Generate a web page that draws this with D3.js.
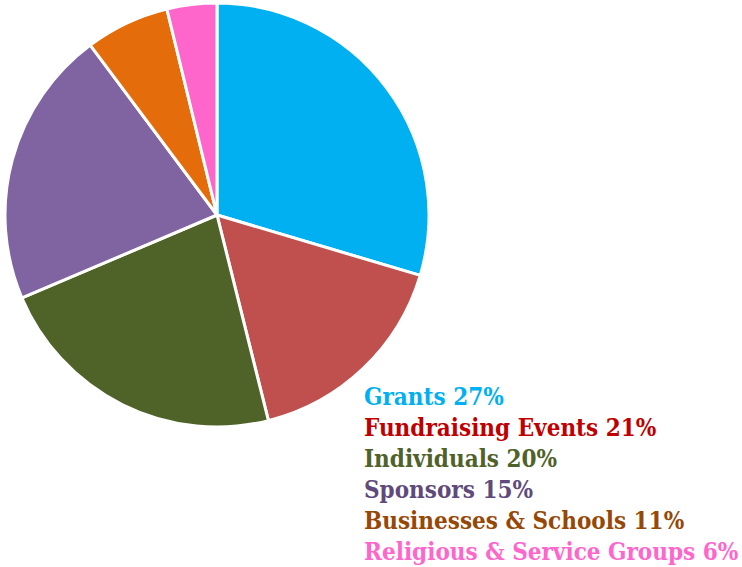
<!DOCTYPE html>
<html>
<head>
<meta charset="utf-8">
<script src="https://cdn.jsdelivr.net/npm/d3@7"></script>
<style>
body { margin: 0; background: #fff; }
</style>
</head>
<body>
<div id="chart"></div>
<script>
// slice sizes as drawn, and the legend texts
var categories = ["Grants", "Fundraising Events", "Individuals", "Sponsors", "Businesses & Schools", "Religious & Service Groups"]
var sliceValues = [29.6, 16.5, 22.5, 21.2, 6.4, 3.8]
var labelPercents = [27, 21, 20, 15, 11, 6]
var sliceColors = ["#00B0F0", "#C0504D", "#4F6228", "#8064A2", "#E46C0A", "#FF66CC"]
var labelColors = ["#00B0F0", "#C00000", "#4F6228", "#604A7B", "#974806", "#FF66CC"]

var width = 742
var height = 567

var svg = d3.select("#chart").append("svg")
  .attr("width", width)
  .attr("height", height)

var cx = 217, cy = 215, radius = 212

var pie = d3.pie().sort(null).value(function(d){ return d })
var arc = d3.arc().innerRadius(0).outerRadius(radius)

var g = svg.append("g").attr("transform", "translate(" + cx + "," + cy + ")")

g.selectAll("path")
  .data(pie(sliceValues))
  .enter()
  .append("path")
  .attr("d", arc)
  .attr("fill", function(d, i){ return sliceColors[i] })
  .attr("stroke", "#fff")
  .attr("stroke-width", 3)
  .attr("stroke-linejoin", "round")

// legend text block
var lineY = d3.scaleLinear().domain([0, 5]).range([405, 560])

svg.append("g").selectAll("text")
  .data(categories)
  .enter()
  .append("text")
  .attr("x", 364)
  .attr("y", function(d, i){ return lineY(i) })
  .attr("fill", function(d, i){ return labelColors[i] })
  .style("font-family", "'DejaVu Serif Condensed', 'DejaVu Serif', serif")
  .style("font-stretch", "condensed")
  .style("font-weight", "bold")
  .style("font-size", "24px")
  .text(function(d, i){ return d + " " + labelPercents[i] + "%" })
</script>
</body>
</html>
